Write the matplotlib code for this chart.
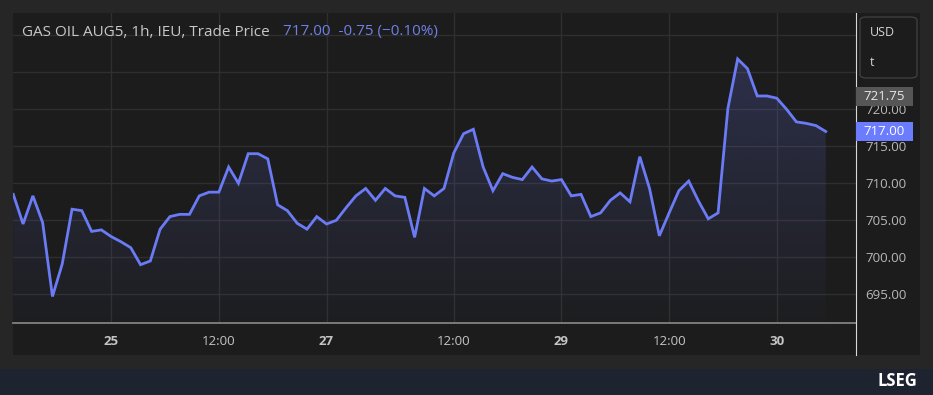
import matplotlib
matplotlib.use('Agg')
import matplotlib.pyplot as plt
import numpy as np
from matplotlib.patches import Rectangle, FancyBboxPatch
from matplotlib.lines import Line2D
from matplotlib.colors import LinearSegmentedColormap

# hourly trade prices
prices = [708.5, 704.5, 708.3, 704.7, 694.7, 699.1, 706.5, 706.3, 703.5, 703.7,
          702.8, 702.1, 701.3, 699.0, 699.5, 703.8, 705.5, 705.8, 705.8, 708.3,
          708.8, 708.8, 712.2, 710.0, 714.0, 714.0, 713.3, 707.1, 706.3, 704.6,
          703.8, 705.5, 704.5, 705.0, 706.7, 708.3, 709.3, 707.7, 709.3, 708.3,
          708.1, 702.7, 709.3, 708.3, 709.3, 714.1, 716.7, 717.3, 712.2, 709.0,
          711.3, 710.8, 710.5, 712.2, 710.6, 710.3, 710.5, 708.3, 708.5, 705.5,
          706.0, 707.7, 708.7, 707.5, 713.6, 709.3, 702.9, 706.0, 709.0, 710.3,
          707.6, 705.2, 706.0, 720.1, 726.8, 725.5, 721.8, 721.8, 721.5, 720.0,
          718.3, 718.1, 717.8, 717.0]
tick_pos = [10, 21, 32, 45, 56, 67, 78]
tick_labels = ['25', '12:00', '27', '12:00', '29', '12:00', '30']
grid_levels = [695, 700, 705, 710, 715, 720, 725, 730]
level_labels = ['695.00', '700.00', '705.00', '710.00', '715.00', '720.00', '', '']
ref_price = 721.75
last_price = 717.00

W, H = 933, 395
LINE = '#6b7bf5'
PANEL = '#1c1c1c'
OUTER = '#262626'
TXT = '#c4c4c4'

def fy(py):
    return 1 - py / H

fig = plt.figure(figsize=(W / 100, H / 100), dpi=100)
fig.patch.set_facecolor(OUTER)

# chart panel and bottom strip
fig.add_artist(Rectangle((12.5 / W, fy(355)), (919.5 - 12.5) / W, (355 - 12.5) / H,
                         transform=fig.transFigure, facecolor=PANEL, edgecolor='none', zorder=0))
fig.add_artist(Rectangle((0, 0), 1, (395 - 369) / H, transform=fig.transFigure,
                         facecolor='#1e2330', edgecolor='none', zorder=0))

ax = fig.add_axes([13 / W, fy(322.7), (855.7 - 13) / W, (322.7 - 12.5) / H])
ax.set_facecolor(PANEL)

x = np.arange(len(prices))
ylo, yhi = 691.16, 733.08
xlo, xhi = -0.03, 86.06

# gradient fill under the line
poly = ax.fill_between(x, prices, ylo, color='none', linewidth=0)
r, g, b = matplotlib.colors.to_rgb(LINE)
cmap = LinearSegmentedColormap.from_list('fade', [(r, g, b, 0.02), (r, g, b, 0.21)])
grad = np.linspace(0, 1, 256).reshape(-1, 1)
img = ax.imshow(grad, extent=[0, len(prices) - 1, ylo, max(prices)], origin='lower',
                cmap=cmap, aspect='auto', zorder=1)
img.set_clip_path(poly.get_paths()[0], transform=ax.transData)

ax.plot(x, prices, color=LINE, lw=2, zorder=3, solid_joinstyle='miter')

ax.set_xlim(xlo, xhi)
ax.set_ylim(ylo, yhi)

ax.set_yticks(grid_levels)
ax.set_yticklabels(level_labels)
ax.yaxis.tick_right()
ax.set_xticks(tick_pos)
ax.set_xticklabels(tick_labels)
for lab in ax.get_xticklabels():
    if ':' not in lab.get_text():
        lab.set_fontweight('bold')
ax.tick_params(axis='y', length=0, pad=6.7, labelsize=9.5, labelcolor='#b8b8b8')
ax.tick_params(axis='x', length=0, pad=9, labelsize=9.5, labelcolor=TXT)
for lab in ax.get_xticklabels() + ax.get_yticklabels():
    lab.set_fontfamily('Open Sans')
ax.grid(True, color='#2f2f2f', lw=1)
ax.set_axisbelow(True)
for s in ['top', 'left', 'right']:
    ax.spines[s].set_visible(False)
ax.spines['bottom'].set_color('#8a8a8a')
ax.spines['bottom'].set_linewidth(1.2)

# price scale separator
fig.add_artist(Line2D([855.7 / W, 855.7 / W], [fy(12.5), fy(355)], transform=fig.transFigure,
                      color='#d8d8d8', lw=0.8))

# price tags on the right scale
def tag(value, face, color):
    yd = ax.transData.transform((0, value))[1]
    fig.add_artist(Rectangle((855.8 / W, (yd - 9.3) / H), 57.5 / W, 18.6 / H,
                             transform=fig.transFigure, facecolor=face, edgecolor='none', zorder=5))
    fig.text(884.5 / W, yd / H, f'{value:.2f}', color=color, ha='center', va='center',
             fontsize=9.5, family='Open Sans', zorder=6)

tag(ref_price, '#565656', '#e8e8e8')
tag(last_price, '#6b7cff', '#ffffff')

# currency / unit box
fig.add_artist(FancyBboxPatch((860 / W, fy(78)), 57 / W, 61 / H,
                              boxstyle='round,pad=0,rounding_size=0.008', transform=fig.transFigure,
                              facecolor=PANEL, edgecolor='#3e3e3e', lw=1, zorder=4))
fig.text(870 / W, fy(33), 'USD', color='#d4d4d4', fontsize=9, family='Open Sans', va='center', zorder=6)
fig.text(870 / W, fy(63), 't', color='#d4d4d4', fontsize=9, family='Open Sans', va='center', zorder=6)

# header
fig.text(22 / W, fy(32), 'GAS OIL AUG5, 1h, IEU, Trade Price', color='#c8c8c8', fontsize=11,
         family='Open Sans', va='center')
fig.text(283 / W, fy(32), '717.00  -0.75 (\u22120.10%)', color='#6f80e8', fontsize=11,
         family='Open Sans', va='center')

# footer logo text
fig.text(917 / W, fy(381), 'LSEG', color='white', fontsize=12, fontweight='bold',
         family='Open Sans', ha='right', va='center')

fig.savefig('out.png', dpi=100, facecolor=fig.get_facecolor())
